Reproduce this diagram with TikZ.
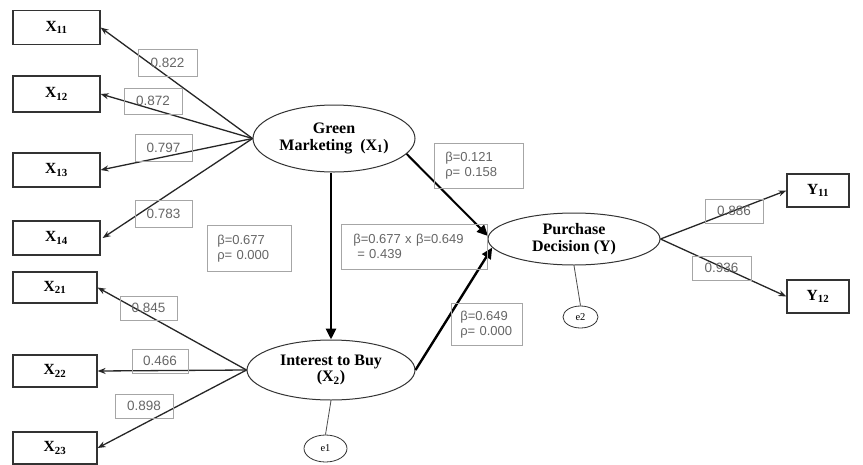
\documentclass[tikz,border=0pt]{standalone}
\usepackage{fontspec}
\setmainfont{Liberation Serif}
\newfontfamily\lblfont{Liberation Sans}
\usetikzlibrary{arrows.meta,shapes.geometric}
\begin{document}
\begin{tikzpicture}[x=1pt,y=-1pt,
 ind/.style={draw=black!80, line width=1.2pt, minimum width=87pt, minimum height=34pt, inner sep=0pt, font=\fontsize{15.5}{16}\selectfont\bfseries},
 lat/.style={ellipse, draw=black!80, line width=1pt, inner sep=0pt, align=center, font=\fontsize{16}{16.5}\selectfont\bfseries},
 err/.style={ellipse, draw=black!80, line width=0.8pt, inner sep=0pt, font=\fontsize{10.5}{12}\selectfont},
 lbl/.style={draw=black!35, line width=0.6pt, text=black!60, inner sep=0pt, font=\lblfont\fontsize{13.5}{15}\selectfont},
 blbl/.style={draw=black!35, line width=0.6pt, text=black!60, anchor=north west, align=left, font=\lblfont\fontsize{13}{15}\selectfont},
 load/.style={line width=1.3pt, draw=black!85, -{Stealth[length=8pt,width=6pt]}},
 strc/.style={line width=2pt, draw=black, -{Triangle[length=11pt,width=10pt]}}
]
\useasboundingbox (0,0) rectangle (863,464);
\fill[white] (0,0) rectangle (863,464);

% indicators
\node[ind] (x11) at (56.5,27.5) {X\textsubscript{11}};
\node[ind, minimum height=36pt] (x12) at (56.5,94) {X\textsubscript{12}};
\node[ind] (x13) at (56.5,170) {X\textsubscript{13}};
\node[ind] (x14) at (56.5,238) {X\textsubscript{14}};
\node[ind, minimum width=84pt, minimum height=31pt] (x21) at (55,287.5) {X\textsubscript{21}};
\node[ind, minimum width=84pt, minimum height=32pt] (x22) at (55,371) {X\textsubscript{22}};
\node[ind, minimum width=84pt, minimum height=32pt] (x23) at (55,448) {X\textsubscript{23}};
\node[ind, minimum width=62pt, minimum height=33pt] (y11) at (818,190.5) {Y\textsubscript{11}};
\node[ind, minimum width=62pt, minimum height=33pt] (y12) at (818,296.5) {Y\textsubscript{12}};

% latent variables
\node[lat, minimum width=162pt, minimum height=67pt] (gm) at (334,138.5) {Green\\Marketing\ \ (X\textsubscript{1})};
\node[lat, minimum width=168pt, minimum height=60pt] (ib) at (331,370) {Interest to Buy\\(X\textsubscript{2})};
\node[lat, minimum width=172pt, minimum height=52pt] (pd) at (574,239) {Purchase\\Decision (Y)};
\node[err, minimum width=43pt, minimum height=27pt] (e1) at (325.5,448.5) {e1};
\node[err, minimum width=35pt, minimum height=22pt] (e2) at (580.5,317) {e2};

% loadings
\draw[load] (gm.west) -- (x11.east);
\draw[load] (gm.west) -- (x12.east);
\draw[load] (gm.west) -- (x13.east);
\draw[load] (gm.west) -- ([xshift=2pt]x14.east);
\draw[load] (ib.west) -- (x21.east);
\draw[load] (ib.west) -- (x22.east);
\draw[load] (ib.west) -- (x23.east);
\draw[load] (pd.east) -- (y11.west);
\draw[load] (pd.east) -- (y12.west);

% structural paths
\draw[strc, line width=2.8pt] (gm.south -| ib.north) -- (ib.north);
\draw[strc] (gm.-12) -- (pd.178);
\draw[strc, line width=2.4pt] (ib.east) -- (pd.186);
\draw[line width=0.8pt, draw=black!70] (e1.north) -- (ib.south);
\draw[line width=0.8pt, draw=black!70] (e2.north) -- (pd.south);

% loading labels
\node[lbl, minimum width=59pt, minimum height=27pt] (l1) at (167.5,62.5) {0.822};
\node[lbl, minimum width=58pt, minimum height=26pt] (l2) at (153,101) {0.872};
\node[lbl, minimum width=57pt, minimum height=27pt] (l3) at (163.5,147.5) {0.797};
\node[lbl, minimum width=57pt, minimum height=27pt] (l4) at (163.5,213.5) {0.783};
\node[lbl, minimum width=57pt, minimum height=24pt] (l5) at (148.5,308) {0.845};
\node[lbl, minimum width=56pt, minimum height=24pt] (l6) at (160,361) {0.466};
\node[lbl, minimum width=58pt, minimum height=24pt] (l7) at (144,406) {0.898};
\node[lbl, minimum width=58pt, minimum height=24pt] (l8) at (734,211) {0.886};
\node[lbl, minimum width=59pt, minimum height=24pt] (l9) at (721.5,268) {0.936};

% path coefficient labels
\node[blbl, inner xsep=10pt, text width=64pt, minimum height=46pt] (b1) at (207,225) {β=0.677\\ρ= 0.000};
\node[blbl, inner xsep=11pt, text width=67pt, minimum height=45pt] (b2) at (434,143) {β=0.121\\ρ= 0.158};
\node[blbl, inner xsep=12pt, text width=122pt, minimum height=45pt] (b3) at (341,224) {β=0.677 x β=0.649\\\hspace*{4pt}= 0.439};
\node[blbl, inner xsep=9pt, text width=53pt, minimum height=42pt] (b4) at (451,303) {β=0.649\\ρ= 0.000};
\end{tikzpicture}
\end{document}
